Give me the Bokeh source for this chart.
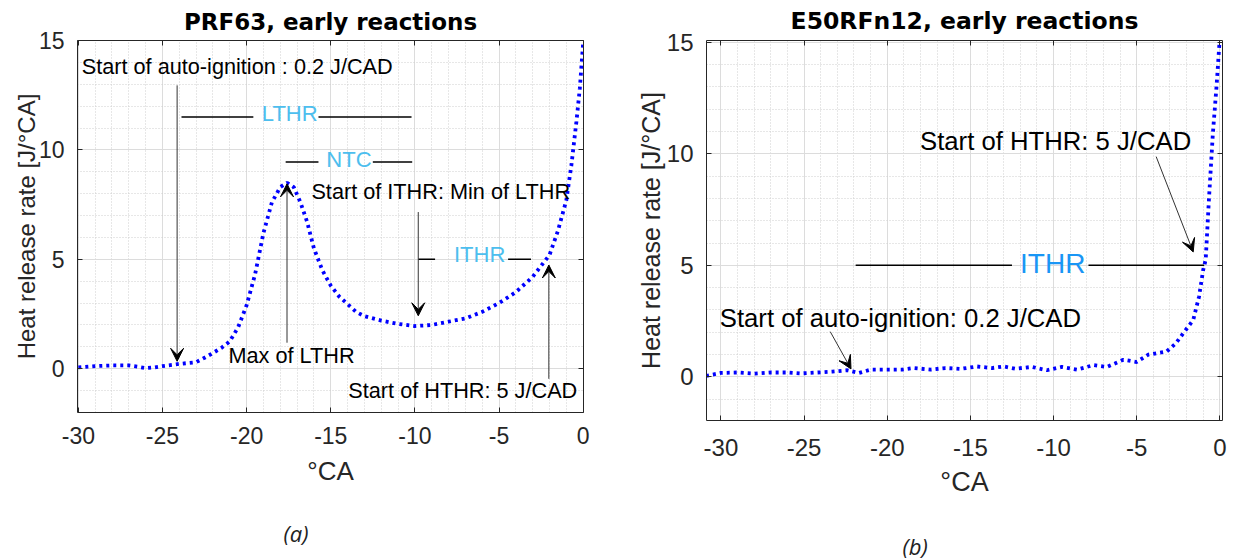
from bokeh.plotting import figure
from bokeh.layouts import row
from bokeh.models import (LinearAxis, SingleIntervalTicker, Range1d, Arrow, VeeHead, Title,
                          NumeralTickFormatter)
from bokeh.core.properties import value
from bokeh.embed import file_html
from bokeh.resources import INLINE

# Heat release rate of PRF63, early reactions (crank angle in deg CA, HRR in J/deg CA)
ca_prf63 = [-30, -29, -28, -27, -26.5, -26, -25.5, -25, -24, -23, -22.5, -22, -21.5, -21,
            -20.5, -20, -19.5, -19, -18.5, -18, -17.6, -17.2, -16.8, -16.4, -16, -15.5,
            -15, -14.5, -14, -13.5, -13, -12, -11, -10, -9, -8, -7, -6, -5, -4, -3, -2.5,
            -2, -1.5, -1, -0.7, -0.4, -0.2, 0]
hrr_prf63 = [0.06, 0.12, 0.15, 0.15, 0.1, 0.03, 0.06, 0.12, 0.22, 0.3, 0.5, 0.72, 0.95, 1.25,
             1.9, 2.9, 4.3, 6.2, 7.6, 8.3, 8.5, 8.3, 7.6, 6.7, 5.5, 4.5,
             3.8, 3.3, 2.95, 2.6, 2.4, 2.2, 2.05, 1.95, 2.0, 2.15, 2.3, 2.6, 3.0, 3.5, 4.2, 4.7,
             5.2, 6.3, 7.7, 9.3, 11.3, 12.8, 14.9]

# Heat release rate of E50RFn12, early reactions
ca_e50 = [-30.9, -30, -29, -28, -27, -26, -25.2, -24.2, -23.3, -22.4, -21.7, -21, -20, -19.1,
          -18.4, -17.4, -16.5, -15.6, -14.6, -13.7, -13, -12.3, -11.3, -10.4, -9.5, -8.6,
          -7.6, -6.8, -5.8, -5, -4.3, -3.2, -2.65, -2.2, -1.6, -1.25, -1.0, -0.85, -0.66,
          -0.42, -0.19, -0.02]
hrr_e50 = [0.05, 0.18, 0.2, 0.15, 0.2, 0.2, 0.16, 0.2, 0.24, 0.3, 0.18, 0.33, 0.33, 0.33,
           0.4, 0.33, 0.4, 0.36, 0.47, 0.4, 0.47, 0.37, 0.45, 0.3, 0.45, 0.33,
           0.53, 0.45, 0.77, 0.67, 1.0, 1.14, 1.5, 1.96, 2.55, 3.6, 4.8, 5.25, 7.9,
           10.9, 13.1, 15.0]

# Detection thresholds (J/CAD)
auto_ignition_threshold = 0.2
hthr_threshold = 5

FONT = "Liberation Sans"
DARK = "#262626"
LIGHT_BLUE = "#4DBEEE"
BRIGHT_BLUE = "#1996F5"


def make_panel(title, x_range, y_range, frame_w, frame_h, borders, tick_px, ylab_px,
               xlab_px, title_px, caption, caption_offset, caption_standoff, ylab_standoff,
               xtick_standoff, xlab_standoff):
    left, right, top, bottom = borders
    p = figure(frame_width=frame_w, frame_height=frame_h,
               x_range=Range1d(*x_range), y_range=Range1d(*y_range),
               min_border_left=left, min_border_right=right,
               min_border_top=top, min_border_bottom=bottom,
               output_backend="svg", toolbar_location=None,
               background_fill_color="white", border_fill_color="white")
    p.outline_line_color = None

    p.title.text = title
    p.title.align = "center"
    p.title.text_font = "DejaVu Sans"
    p.title.text_font_style = "bold"
    p.title.text_font_size = title_px
    p.title.text_color = "black"
    p.title.vertical_align = "top"
    p.title.standoff = 8

    xt = SingleIntervalTicker(interval=5, num_minor_ticks=5)
    yt = SingleIntervalTicker(interval=5, num_minor_ticks=5)
    p.xaxis.ticker = xt
    p.yaxis.ticker = yt
    p.xaxis.formatter = NumeralTickFormatter(format="0")
    p.yaxis.formatter = NumeralTickFormatter(format="0")

    for ax in (p.xaxis[0], p.yaxis[0]):
        ax.major_label_text_font = FONT
        ax.major_label_text_font_size = tick_px
        ax.major_label_text_color = DARK
        ax.axis_line_color = DARK
        ax.major_tick_line_color = DARK
        ax.major_tick_in = 5
        ax.major_tick_out = 0
        ax.minor_tick_line_color = None
        ax.axis_label_text_font = FONT
        ax.axis_label_text_font_style = "normal"
        ax.axis_label_text_color = DARK

    p.xaxis.axis_label = "°CA"
    p.xaxis.axis_label_text_font_size = xlab_px
    p.xaxis.major_label_standoff = xtick_standoff
    p.xaxis.axis_label_standoff = xlab_standoff

    p.yaxis.axis_label = "Heat release rate [J/°CA]"
    p.yaxis.axis_label_text_font_size = ylab_px
    p.yaxis.major_label_standoff = 9
    p.yaxis.axis_label_standoff = ylab_standoff

    # box axes on top and right, ticks only
    for side, tk in (("above", xt), ("right", yt)):
        ax = LinearAxis(ticker=tk, major_label_text_font_size="0px",
                        major_label_text_color=None, major_label_standoff=0,
                        major_tick_in=5, major_tick_out=0,
                        minor_tick_in=0, minor_tick_out=0, minor_tick_line_color=None,
                        axis_line_color=DARK, major_tick_line_color=DARK)
        p.add_layout(ax, side)

    for g in (p.xgrid[0], p.ygrid[0]):
        g.grid_line_color = "#dcdcdc"
        g.grid_line_width = 1
        g.minor_grid_line_color = "#cfcfcf"
        g.minor_grid_line_dash = "1 2"
        g.minor_grid_line_width = 1

    cap = Title(text=caption, align="left", offset=caption_offset,
                text_font="Open Sans", text_font_style="italic",
                text_font_size="22px", text_color="#222222",
                vertical_align="top", standoff=caption_standoff)
    p.add_layout(cap, "below")
    return p


def add_text(p, x, y, txt, size, color="black", align="left"):
    p.text(x=[x], y=[y], text=[txt], text_font=value(FONT), text_font_size=value(size),
           text_color=color, text_align=align, text_baseline="alphabetic")


def add_arrow(p, x0, y0, x1, y1, head=13):
    p.add_layout(Arrow(end=VeeHead(size=head, fill_color="black", line_color="black",
                                   line_width=1),
                       x_start=x0, y_start=y0, x_end=x1, y_end=y1,
                       line_color="#333333", line_width=1))


def add_span_pair(p, y, x_a, x_b, x_c, x_d, width=1.5):
    p.segment(x0=[x_a, x_c], y0=[y, y], x1=[x_b, x_d], y1=[y, y],
              line_color="black", line_width=width)


# ---- (a) PRF63 ----
pa = make_panel("PRF63, early reactions", (-30.05, 0.02), (-2, 15), 506, 372,
                (77, 37, 39, 149), "23px", "24px", "26px", "23px", "(a)", 206, 58, -4,
                10, 9)
pa.line(ca_prf63, hrr_prf63, line_color="#0000FF", line_width=3.8, line_dash="3 4")

add_text(pa, -29.8, 13.8, "Start of auto-ignition : 0.2 J/CAD", "21.7px")
add_arrow(pa, -24.13, 12.95, -24.13, auto_ignition_threshold + 0.14)

add_span_pair(pa, 11.5, -23.87, -19.6, -15.73, -10.2)
add_text(pa, -17.44, 11.65, "LTHR", "22px", LIGHT_BLUE, "center")

add_span_pair(pa, 9.45, -17.68, -15.73, -12.5, -10.16)
add_text(pa, -13.92, 9.55, "NTC", "22px", LIGHT_BLUE, "center")

add_text(pa, -16.15, 8.1, "Start of ITHR: Min of LTHR", "21.7px")
add_arrow(pa, -9.8, 7.16, -9.8, 2.42)

add_span_pair(pa, 5.0, -9.8, -8.8, -4.46, -3.1)
add_text(pa, -6.15, 5.2, "ITHR", "22px", LIGHT_BLUE, "center")

add_arrow(pa, -17.6, 1.19, -17.6, 8.45)
add_text(pa, -21.08, 0.6, "Max of LTHR", "21.7px")

add_arrow(pa, -2.04, -0.46, -2.04, hthr_threshold - 0.26)
add_text(pa, -0.35, -1.0, "Start of HTHR: 5 J/CAD", "21.7px", align="right")

# ---- (b) E50RFn12 ----
pb = make_panel("E50RFn12, early reactions", (-30.87, 0.16), (-1.95, 15.07), 516, 380,
                (86, 11, 40, 140), "24px", "25px", "27px", "23.5px", "(b)", 196, 62, -1,
                14, 8)
pb.line(ca_e50, hrr_e50, line_color="#0000FF", line_width=3.8, line_dash="3 4")

add_text(pb, -18.03, 10.58, "Start of HTHR: 5 J/CAD", "25.7px")
add_arrow(pb, -3.83, 9.87, -1.6, hthr_threshold + 0.6)

add_span_pair(pb, hthr_threshold, -21.9, -12.5, -7.9, -0.94)
add_text(pb, -10.05, 5.09, "ITHR", "28px", BRIGHT_BLUE, "center")

add_text(pb, -30.07, 2.64, "Start of auto-ignition: 0.2 J/CAD", "25.7px")
add_arrow(pb, -23.43, 2.03, -22.18, auto_ignition_threshold + 0.16)

layout = row(pa, pb)
open("out.html", "w").write(file_html(layout, INLINE))
